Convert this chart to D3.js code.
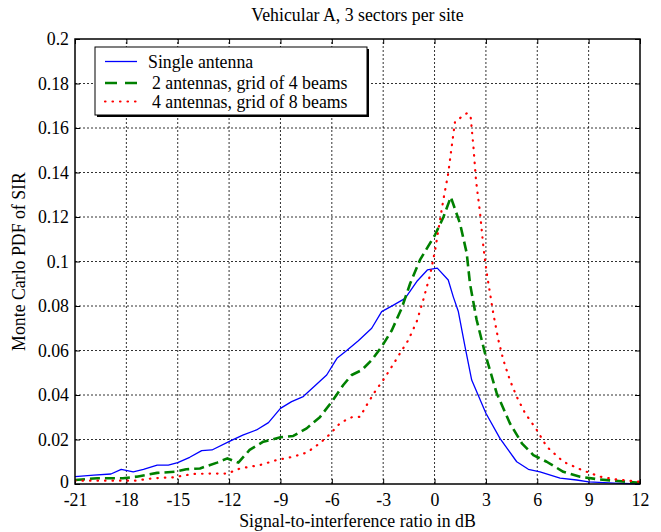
<!DOCTYPE html>
<html>
<head>
<meta charset="utf-8">
<script src="https://cdn.jsdelivr.net/npm/d3@7"></script>
<style>
html,body{margin:0;padding:0;background:#fff;}
svg text{font-family:"Liberation Serif","Times New Roman",serif;fill:#000;}
</style>
</head>
<body>
<svg id="chart" width="661" height="532"></svg>
<script>
const title = "Vehicular A, 3 sectors per site";
const xLabel = "Signal-to-interference ratio in dB";
const yLabel = "Monte Carlo PDF of SIR";
const xTicks = [-21,-18,-15,-12,-9,-6,-3,0,3,6,9,12];
const yTicks = [0,0.02,0.04,0.06,0.08,0.1,0.12,0.14,0.16,0.18,0.2];
const seriesNames = ["Single antenna","2 antennas, grid of 4 beams","4 antennas, grid of 8 beams"];

const singleX = [-21,-19.9,-18.9,-18.3,-17.6,-17.0,-16.2,-15.55,-15.0,-14.3,-13.6,-13.0,-11.95,-11.2,-10.4,-9.7,-9.0,-8.35,-7.67,-7.0,-6.3,-5.7,-5.13,-4.45,-3.67,-3.09,-2.4,-1.72,-1.04,-0.42,0.16,0.8,1.1,1.39,1.78,2.17,3.0,3.82,4.8,5.48,6.16,7.33,8.3,9.0,10.5,12];
const singleY = [0.0033,0.004,0.0045,0.0066,0.0055,0.0066,0.0085,0.0085,0.0096,0.012,0.015,0.0153,0.0193,0.022,0.0243,0.0276,0.034,0.037,0.0393,0.044,0.049,0.0565,0.060,0.0644,0.070,0.0775,0.0804,0.0834,0.091,0.0962,0.097,0.0917,0.084,0.0775,0.0617,0.0467,0.0318,0.0205,0.010,0.0066,0.0055,0.0026,0.0018,0.001,0.0004,0.0];

const grid4X = [-21,-19.7,-18.2,-17.4,-16.2,-15.15,-14.5,-13.7,-12.7,-12.1,-11.46,-10.8,-10.0,-9.0,-8.25,-7.47,-6.7,-6.0,-5.33,-4.84,-4.25,-3.67,-3.09,-2.5,-1.92,-1.43,-0.85,0.03,0.52,0.95,1.49,1.88,2.07,2.46,2.95,3.63,4.4,5.1,5.77,6.55,7.52,8.5,9.66,11.2,12];
const grid4Y = [0.0018,0.0026,0.0026,0.0033,0.005,0.0055,0.0066,0.007,0.0096,0.0115,0.0096,0.0153,0.019,0.021,0.0216,0.025,0.030,0.037,0.0445,0.049,0.0512,0.0557,0.0617,0.069,0.079,0.090,0.1007,0.112,0.120,0.129,0.117,0.1037,0.090,0.0737,0.0587,0.0408,0.0273,0.0183,0.013,0.010,0.0055,0.0033,0.002,0.001,0.0005];

const grid8X = [-21,-19.5,-18.3,-17.5,-16.4,-15.25,-14.1,-13.1,-12.1,-11.36,-10.2,-9.2,-8.25,-7.47,-6.7,-6.1,-5.5,-4.84,-4.35,-3.96,-3.48,-3.0,-2.5,-2.02,-1.53,-1.04,-0.66,-0.26,0.03,0.22,0.51,0.8,1.0,1.2,1.59,1.88,2.1,2.27,2.42,2.66,2.85,3.05,3.24,3.43,3.73,4.02,4.4,4.8,5.29,5.97,6.55,7.52,8.6,9.67,10.64,12];
const grid8Y = [0.0015,0.0015,0.0015,0.0015,0.0026,0.003,0.0045,0.0047,0.0047,0.007,0.0085,0.0108,0.0123,0.0141,0.0183,0.0225,0.0275,0.030,0.0302,0.0355,0.0415,0.0467,0.0527,0.0587,0.0647,0.073,0.0827,0.094,0.105,0.114,0.1276,0.1396,0.1516,0.163,0.165,0.1666,0.1658,0.1516,0.1366,0.1217,0.1067,0.0947,0.0857,0.0767,0.0647,0.0557,0.0467,0.0392,0.0318,0.0243,0.0168,0.010,0.0063,0.0033,0.002,0.001];

const W = 661, H = 532;
const FS = 17.8;
const FF = "Liberation Serif, Times New Roman, serif";
const m = {left:75, top:39, right:21, bottom:48};
const svg = d3.select("#chart");
const x = d3.scaleLinear().domain([-21,12]).range([m.left, W - m.right]);
const y = d3.scaleLinear().domain([0,0.2]).range([H - m.bottom, m.top]);

svg.append("rect").attr("width",W).attr("height",H).attr("fill","#fff");

// grid
const grid = svg.append("g");
grid.selectAll("line.vg").data(xTicks.slice(1,-1)).join("line")
  .attr("x1",d=>x(d)).attr("x2",d=>x(d)).attr("y1",y(0)).attr("y2",y(0.2))
  .attr("stroke","#000").attr("stroke-width",1).attr("stroke-dasharray","2,2").attr("opacity",0.8);
grid.selectAll("line.hg").data(yTicks.slice(1,-1)).join("line")
  .attr("y1",d=>y(d)).attr("y2",d=>y(d)).attr("x1",x(-21)).attr("x2",x(12))
  .attr("stroke","#000").attr("stroke-width",1).attr("stroke-dasharray","2,2").attr("opacity",0.8);

// axes
const fmt = d => d===0 ? "0" : String(+d.toFixed(2));
const xAxis = svg.append("g").attr("transform",`translate(0,${y(0)})`)
  .call(d3.axisBottom(x).tickValues(xTicks).tickSize(-5).tickPadding(9.5).tickFormat(d=>String(d)));
const xAxisTop = svg.append("g").attr("transform",`translate(0,${y(0.2)})`)
  .call(d3.axisTop(x).tickValues(xTicks).tickSize(-5).tickFormat(""));
const yAxis = svg.append("g").attr("transform",`translate(${x(-21)},0)`)
  .call(d3.axisLeft(y).tickValues(yTicks).tickSize(-5).tickPadding(6).tickFormat(fmt));
const yAxisR = svg.append("g").attr("transform",`translate(${x(12)},0)`)
  .call(d3.axisRight(y).tickValues(yTicks).tickSize(-5).tickFormat(""));
[xAxis,xAxisTop,yAxis,yAxisR].forEach(g=>{
  g.attr("font-family",FF).attr("font-size",FS);
  g.select(".domain").remove();
  g.selectAll(".tick line").attr("stroke","#000");
  g.selectAll("text").style("font-family",FF).style("font-size",FS+"px").attr("fill","#000");
});
// the "0" label of the y axis sits slightly above the axis line, as in the reference
yAxis.selectAll(".tick text").filter(d=>d===0).attr("dy","0.2em");

// series
const sets = [
  {xs:singleX, ys:singleY, color:"#0000ff", w:1.3, dash:null, cap:"butt"},
  {xs:grid4X, ys:grid4Y, color:"#008000", w:2.6, dash:"10,5", cap:"butt"},
  {xs:grid8X, ys:grid8Y, color:"#ff0000", w:2.2, dash:"0.5,7", cap:"round"}
];
const line = d3.line().x(d=>x(d[0])).y(d=>y(d[1]));
svg.append("clipPath").attr("id","pc").append("rect")
  .attr("x",x(-21)).attr("y",y(0.2)-2).attr("width",x(12)-x(-21)).attr("height",y(0)-y(0.2)+3);
sets.forEach(s=>{
  const pts = s.xs.map((v,i)=>[v,s.ys[i]]);
  const p = svg.append("path").datum(pts).attr("d",line)
    .attr("fill","none").attr("stroke",s.color).attr("stroke-width",s.w)
    .attr("stroke-linejoin","round").attr("stroke-linecap",s.cap)
    .attr("clip-path","url(#pc)");
  if (s.dash) p.attr("stroke-dasharray",s.dash);
});

// frame
svg.append("rect").attr("x",x(-21)).attr("y",y(0.2)).attr("width",x(12)-x(-21)).attr("height",y(0)-y(0.2))
  .attr("fill","none").attr("stroke","#000").attr("stroke-width",1.5);

// legend
const lg = svg.append("g");
const lx = 95, ly = 47, lw = 272, lh = 68;
lg.append("rect").attr("x",lx+2).attr("y",ly+2).attr("width",lw).attr("height",lh).attr("fill","#000");
lg.append("rect").attr("x",lx).attr("y",ly).attr("width",lw).attr("height",lh).attr("fill","#fff").attr("stroke","#000").attr("stroke-width",1);
const rowsY = [61.5, 83, 101.5];
sets.forEach((s,i)=>{
  const l = lg.append("line").attr("x1",105).attr("x2",137).attr("y1",rowsY[i]).attr("y2",rowsY[i])
    .attr("stroke",s.color).attr("stroke-width",s.w).attr("stroke-linecap",s.cap);
  if (s.dash) l.attr("stroke-dasharray", i===1 ? "12,8" : s.dash);
  lg.append("text").attr("x", i===0 ? 148 : 152).attr("y",rowsY[i]+6)
    .style("font-family",FF).style("font-size",FS+"px").text(seriesNames[i]);
});

// titles
svg.append("text").attr("x",(x(-21)+x(12))/2).attr("y",21).attr("text-anchor","middle")
  .style("font-family",FF).style("font-size",FS+"px").text(title);
svg.append("text").attr("x",(x(-21)+x(12))/2).attr("y",527).attr("text-anchor","middle")
  .style("font-family",FF).style("font-size",FS+"px").text(xLabel);
svg.append("text").attr("transform",`translate(25,${(y(0)+y(0.2))/2}) rotate(-90)`).attr("text-anchor","middle")
  .style("font-family",FF).style("font-size",FS+"px").text(yLabel);
</script>
</body>
</html>
